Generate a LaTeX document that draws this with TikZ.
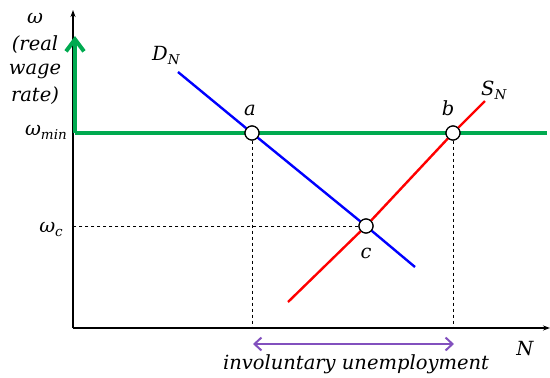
\documentclass[tikz,border=0pt]{standalone}
\usepackage{fontspec}
\setmainfont{DejaVu Serif}
\usetikzlibrary{arrows.meta}
\definecolor{gline}{RGB}{0,170,80}
\definecolor{purp}{RGB}{130,80,190}
\newcommand{\lowsub}[1]{\raisebox{-0.22em}{\fontsize{13.5}{14}\selectfont #1}}
\begin{document}
\begin{tikzpicture}[x=1pt,y=-1pt,
  pt/.style={circle,draw=black,fill=white,line width=1.2pt,minimum size=14pt,inner sep=0pt},
  lab/.style={font=\fontsize{19.5}{22}\selectfont\itshape,inner sep=0pt},
  axis/.style={line width=1.3pt,-{Stealth[length=7pt,width=5pt]}},
  guide/.style={dashed,line width=0.9pt}]
\useasboundingbox (0,0) rectangle (550,378);
% axes
\coordinate (O) at (73,328);
\coordinate (ytop) at (73,10);
\coordinate (xend) at (550,328);
\draw[axis] (O) -- (ytop);
\draw[axis] (O) -- (xend);
% points
\coordinate (Da) at (178,72);
\coordinate (De) at (415,267);
\coordinate (Sa) at (288,302);
\coordinate (Se) at (485,101);
\coordinate (ga) at (75,133);
\coordinate (gtop) at (75,36);
\coordinate (gend) at (547,133);
% green
\draw[gline,line width=4.5pt] (ga) -- (gend);
\draw[gline,line width=4.5pt,-{Straight Barb[length=12pt,width=18pt,line width=4pt]}] (ga) -- (gtop);
% dashed
\coordinate (ax) at (252,328);
\coordinate (bx) at (453,328);
\coordinate (cy) at (73,226);
\node[pt] (a) at (252,133) {};
\node[pt] (b) at (453,133) {};
\node[pt] (c) at (366,226) {};
\draw[guide] (a) -- (ax);
\draw[guide] (b) -- (bx);
\draw[guide] (c) -- (cy);
% curves
\draw[blue,line width=2.4pt] (Da) -- (a.center) -- (c.center) -- (De);
\draw[red,line width=2.4pt] (Sa) -- (c.center) -- (b.center) -- (Se);
\node[pt] at (a) {};
\node[pt] at (b) {};
\node[pt] at (c) {};
% purple
\coordinate (pl) at (253,344);
\coordinate (pr) at (454,344);
\draw[purp,line width=2pt,{Straight Barb[length=7pt,width=13pt]}-{Straight Barb[length=7pt,width=13pt]}] (pl) -- (pr);
% labels
\node[lab] (wl) at (35,18) {ω};
\node[lab] (real) at (35,45) {(real};
\node[lab] (wage) at (35,71) {wage};
\node[lab] (rate) at (35,96) {rate)};
\node[lab,anchor=base east] (wmin) at (67,135) {ω\lowsub{min}};
\node[lab,anchor=base east] (wc) at (63,232) {ω\lowsub{c}};
\node[lab,anchor=base west] (DN) at (152,60) {D\lowsub{N}};
\node[lab,anchor=base west] (SN) at (481,95) {S\lowsub{N}};
\node[lab,anchor=base] (la) at (250,115) {a};
\node[lab,anchor=base] (lb) at (448,115) {b};
\node[lab,anchor=base] (lc) at (366,258) {c};
\node[lab,anchor=base] (N) at (525,355) {N};
\node[lab,anchor=base] (iu) at (356,369) {involuntary unemployment};
\end{tikzpicture}
\end{document}
